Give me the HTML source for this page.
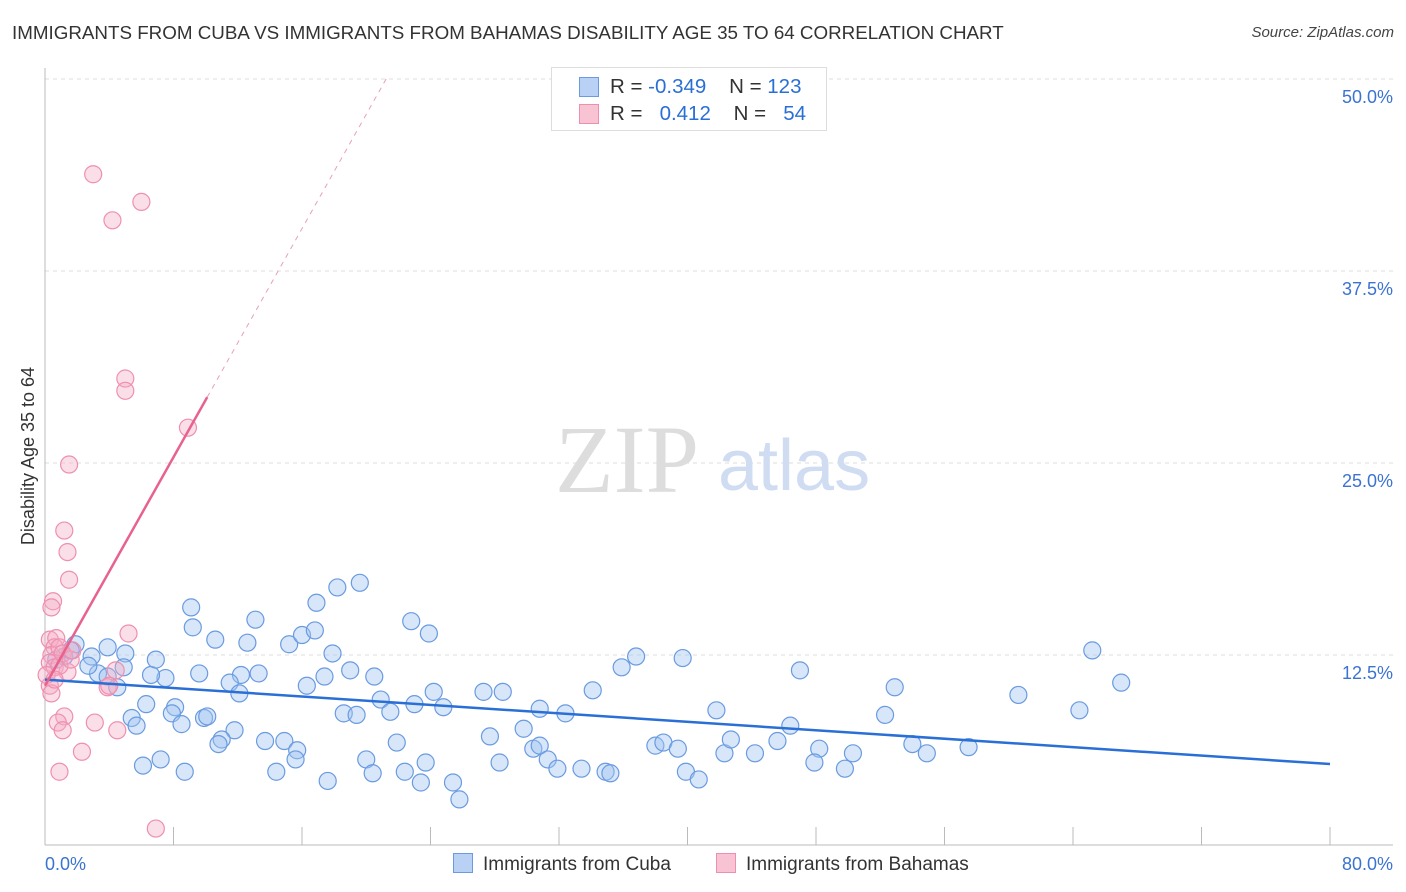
<!DOCTYPE html>
<html><head><meta charset="utf-8"><style>
body{margin:0;background:#fff;font-family:"Liberation Sans",sans-serif;}
#wrap{position:relative;width:1406px;height:892px;overflow:hidden;}
.t{position:absolute;white-space:nowrap;}
</style></head><body>
<div id="wrap">
<div class="t" style="left:12px;top:22px;font-size:18.8px;color:#333;">IMMIGRANTS FROM CUBA VS IMMIGRANTS FROM BAHAMAS DISABILITY AGE 35 TO 64 CORRELATION CHART</div>
<div class="t" style="right:12px;top:24px;font-size:15px;color:#444;font-style:italic;">Source: ZipAtlas.com</div>
<svg id="plot" width="1406" height="892" style="position:absolute;left:0;top:0"></svg>
</div>
<script>
const xTicksPct=[0,80];
const yTicks=[12.5,25,37.5,50];
const cubaX=[9.1,9.2,10.6,12.6,13.1,15.2,16.0,16.8,16.9,18.2,19.6,22.8,23.9,17.9,19.0,20.5,16.3,17.4,13.3,12.2,11.5,12.1,9.6,7.5,6.6,6.9,5.0,4.9,3.9,1.9,2.9,3.3,3.9,4.5,2.7,6.3,8.1,7.9,8.5,5.4,5.7,6.1,7.2,8.7,9.9,10.1,11.8,11.0,10.8,13.7,14.9,15.7,15.6,14.4,17.6,20.9,21.5,18.6,19.4,20.0,20.4,21.9,22.4,23.7,23.4,24.2,23.0,24.8,25.4,25.8,27.3,28.5,30.8,32.4,29.8,27.7,28.3,30.4,30.8,31.3,31.9,33.4,34.9,35.2,34.1,35.9,36.8,39.7,41.8,38.0,38.5,39.4,39.9,40.7,42.3,42.7,44.2,45.6,46.4,47.0,48.2,47.9,50.3,49.8,52.3,52.9,54.0,54.9,57.5,60.6,64.4,65.2,67.0,1.2,1.6,0.7];
const cubaY=[15.6,14.3,13.5,13.3,14.8,13.2,13.8,14.1,15.9,16.9,17.2,14.7,13.9,12.6,11.5,11.1,10.5,11.1,11.3,11.2,10.7,10.0,11.3,11.0,11.2,12.2,12.6,11.7,13.0,13.2,12.4,11.3,11.1,10.4,11.8,9.3,9.1,8.7,8.0,8.4,7.9,5.3,5.7,4.9,8.4,8.5,7.6,7.0,6.7,6.9,6.9,6.3,5.7,4.9,4.3,9.6,8.8,8.7,8.6,5.7,4.8,6.8,4.9,5.5,4.2,10.1,9.3,9.1,4.2,3.1,10.1,10.1,9.0,8.7,7.7,7.2,5.5,6.4,6.6,5.7,5.1,5.1,4.9,4.8,10.2,11.7,12.4,12.3,8.9,6.6,6.8,6.4,4.9,4.4,6.1,7.0,6.1,6.9,7.9,11.5,6.4,5.5,6.1,5.1,8.6,10.4,6.7,6.1,6.5,9.9,8.9,12.8,10.7,12.4,12.8,12.2];
const bahX=[3.0,6.0,4.2,5.0,5.0,8.9,1.5,1.2,1.4,1.5,0.5,0.4,5.2,0.3,0.7,0.6,0.4,0.3,0.6,1.4,0.9,0.3,0.4,1.2,0.8,1.1,3.1,4.5,2.3,0.9,3.9,4.4,6.9,0.9,1.1,1.6,4.0,0.1,0.6,1.7];
const bahY=[43.8,42.0,40.8,30.5,29.7,27.3,24.9,20.6,19.2,17.4,16.0,15.6,13.9,13.5,13.6,13.0,12.5,12.0,11.7,11.4,11.8,10.5,10.0,8.5,8.1,7.6,8.1,7.6,6.2,4.9,10.4,11.5,1.2,13.0,12.6,12.2,10.5,11.2,10.9,12.8];
const cubaTrend=[10.9,5.4];
const bahTrend=[10.5,1.86];

const X0=45,X1=1330,Y0=847,YT=79;
const sx=v=>X0+(v/80)*(X1-X0);
const sy=v=>Y0-(v/50)*(Y0-YT);
const svg=document.getElementById('plot');
const NS='http://www.w3.org/2000/svg';
function mk(tag,attrs){const e=document.createElementNS(NS,tag);for(const k in attrs)e.setAttribute(k,attrs[k]);svg.appendChild(e);return e;}

yTicks.forEach(v=>{
 const l=mk('line',{x1:X0,x2:1393,y1:sy(v),y2:sy(v),stroke:'#ddd','stroke-dasharray':'4,4'});
 
 
 const t=mk('text',{x:1393,y:sy(v)+24,'text-anchor':'end','font-size':18,fill:'#3b73d1','font-family':'Liberation Sans, sans-serif'});
 t.textContent=v.toFixed(1)+'%';
 
 
});
let ax=mk('line',{x1:X0,x2:X0,y1:68,y2:845,stroke:'#bbb'});


ax=mk('line',{x1:X0,x2:1393,y1:845,y2:845,stroke:'#bbb'});


for(let i=1;i<=10;i++){
 const x=sx(i*8);
 const tk=mk('line',{x1:x,x2:x,y1:827,y2:845,stroke:'#bbb'});
 
 
}
xTicksPct.forEach((v,i)=>{
 const t=mk('text',{x:i==0?45:1393,y:870,'text-anchor':i==0?'start':'end','font-size':18,fill:'#3b73d1','font-family':'Liberation Sans, sans-serif'});
 t.textContent=v.toFixed(1)+'%';
 
 
});
let wm=mk('text',{x:555,y:492,'font-size':96,fill:'#ddd','font-family':'Liberation Serif, serif'});
wm.textContent='ZIP';


wm=mk('text',{x:718,y:490,'font-size':72,fill:'#cfdcf2','font-family':'Liberation Sans, sans-serif'});
wm.textContent='atlas';


const yt=mk('text',{x:34,y:456,'text-anchor':'middle','font-size':18,fill:'#333',transform:'rotate(-90 34 456)','font-family':'Liberation Sans, sans-serif'});
yt.textContent='Disability Age 35 to 64';



cubaX.forEach((v,i)=>{
 const c=mk('circle',{cx:sx(v),cy:sy(cubaY[i]),r:8.5,fill:'rgba(160,195,240,0.42)',stroke:'#6a9be0','stroke-width':1.2});
 
 
});
bahX.forEach((v,i)=>{
 const c=mk('circle',{cx:sx(v),cy:sy(bahY[i]),r:8.5,fill:'rgba(245,170,195,0.38)',stroke:'#ef8fb0','stroke-width':1.2});
 
 
});
let tl=mk('line',{x1:sx(0),y1:sy(cubaTrend[0]),x2:sx(80),y2:sy(cubaTrend[1]),stroke:'#2a6fd6','stroke-width':2.5});


const xs=10.1, xe=(50-bahTrend[0])/bahTrend[1];
tl=mk('line',{x1:sx(0),y1:sy(bahTrend[0]),x2:sx(xs),y2:sy(bahTrend[0]+bahTrend[1]*xs),stroke:'#e8628e','stroke-width':2.5});


tl=mk('line',{x1:sx(xs),y1:sy(bahTrend[0]+bahTrend[1]*xs),x2:sx(xe),y2:sy(50),stroke:'#e8a0b8','stroke-width':1,'stroke-dasharray':'5,5'});


</script>
<div style="position:absolute;left:551px;top:67px;width:274px;height:62px;border:1px solid #ddd;background:#fff;font-size:20.5px;">
 <div style="position:absolute;left:27px;top:9px;width:18px;height:18px;background:#b8d1f5;border:1px solid #6a9be0"></div>
 <div class="t" style="left:58px;top:7px;color:#333">R = <span style="color:#2a6fd6">-0.349</span>&nbsp;&nbsp;&nbsp;&nbsp;N = <span style="color:#2a6fd6">123</span></div>
 <div style="position:absolute;left:27px;top:36px;width:18px;height:18px;background:#f8c4d4;border:1px solid #ef8fb0"></div>
 <div class="t" style="left:58px;top:34px;color:#333">R = &nbsp;&nbsp;<span style="color:#2a6fd6">0.412</span>&nbsp;&nbsp;&nbsp;&nbsp;N = &nbsp;&nbsp;<span style="color:#2a6fd6">54</span></div>
</div>
<div style="position:absolute;left:453px;top:853px;font-size:19px;color:#333;">
 <span style="display:inline-block;width:18px;height:18px;background:#b8d1f5;border:1px solid #6a9be0;vertical-align:-3px;margin-right:10px"></span>Immigrants from Cuba</div>
<div style="position:absolute;left:716px;top:853px;font-size:19px;color:#333;">
 <span style="display:inline-block;width:18px;height:18px;background:#f8c4d4;border:1px solid #ef8fb0;vertical-align:-3px;margin-right:10px"></span>Immigrants from Bahamas</div>
</body></html>
